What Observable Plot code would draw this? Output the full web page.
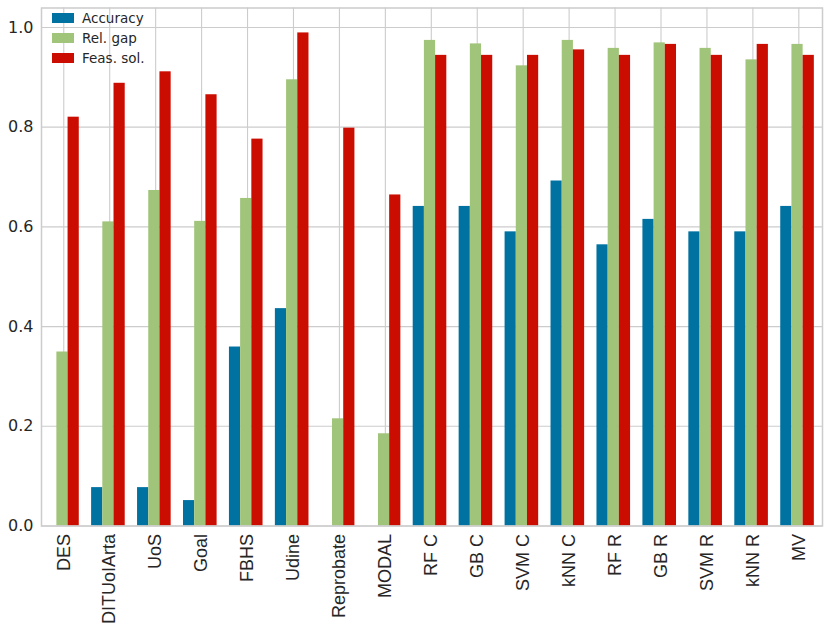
<!DOCTYPE html>
<html>
<head>
<meta charset="utf-8">
<script src="https://cdn.jsdelivr.net/npm/d3@7"></script>
<script src="https://cdn.jsdelivr.net/npm/@observablehq/plot@0.6"></script>
<style>
  html, body { margin: 0; padding: 0; background: #fff; }
  #wrap { position: relative; width: 830px; height: 630px; }
  #legend { position: absolute; left: 52px; top: 8px; font-family: "DejaVu Sans", sans-serif; font-size: 13.5px; color: #262626; }
  .row { display: flex; align-items: center; height: 20px; }
  .sw { width: 22px; height: 10px; margin-right: 8px; }
</style>
</head>
<body>
<div id="wrap"><div id="legend"></div></div>
<script>
const categories = ["DES","DITUoIArta","UoS","Goal","FBHS","Udine","Reprobate","MODAL","RF C","GB C","SVM C","kNN C","RF R","GB R","SVM R","kNN R","MV"];
const accuracy = [0, 0.077, 0.077, 0.051, 0.359, 0.436, 0, 0, 0.641, 0.641, 0.590, 0.692, 0.564, 0.615, 0.590, 0.590, 0.641];
const relGap   = [0.349, 0.610, 0.673, 0.611, 0.657, 0.895, 0.215, 0.185, 0.974, 0.967, 0.923, 0.974, 0.958, 0.969, 0.958, 0.935, 0.966];
const feasSol  = [0.820, 0.888, 0.911, 0.865, 0.776, 0.989, 0.798, 0.664, 0.944, 0.944, 0.944, 0.955, 0.944, 0.966, 0.944, 0.966, 0.944];
const seriesNames = ["Accuracy", "Rel. gap", "Feas. sol."];
const seriesColors = ["#0072a1", "#a0c47a", "#cb0c00"];
const yTicks = [0, 0.2, 0.4, 0.6, 0.8, 1.0];

const seriesValues = [accuracy, relGap, feasSol];
const offsets = [-12.5, -1.3, 9.9];
const inset = (45.94 - 11.2) / 2;

const barMarks = seriesValues.map((vals, s) =>
  Plot.barY(categories.map((c, i) => ({category: c, value: vals[i]})), {
    x: "category", y: "value", fill: seriesColors[s], dx: offsets[s],
    insetLeft: inset, insetRight: inset
  })
);

const chart = Plot.plot({
  width: 830,
  height: 630,
  marginLeft: 41,
  marginRight: 8,
  marginTop: 7.5,
  marginBottom: 104.5,
  style: {fontFamily: "Liberation Sans, Arial, sans-serif", background: "#fff"},
  x: {type: "band", domain: categories, range: [40.3, 821.3], padding: 0, round: false},
  y: {domain: [0, 1.039], range: [525.5, 7.5]},
  marks: [
    Plot.gridX({stroke: "#cccccc", strokeOpacity: 1, strokeWidth: 1.1}),
    Plot.gridY({ticks: yTicks, stroke: "#cccccc", strokeOpacity: 1, strokeWidth: 1.1}),
    ...barMarks,
    Plot.frame({stroke: "#cccccc", strokeWidth: 1.5}),
    Plot.axisX({tickSize: 0, tickRotate: -90, tickPadding: 8, fontSize: 18, fontFamily: "Liberation Sans, Arial, sans-serif", fill: "#262626", label: null}),
    Plot.axisY({ticks: yTicks, tickFormat: d3.format(".1f"), tickSize: 0, tickPadding: 8, fontSize: 16, fontFamily: "DejaVu Sans, sans-serif", fill: "#262626", label: null})
  ]
});
document.getElementById("wrap").prepend(chart);

const legend = document.getElementById("legend");
seriesNames.forEach((n, i) => {
  const row = document.createElement("div");
  row.className = "row";
  row.innerHTML = `<div class="sw" style="background:${seriesColors[i]}"></div><span>${n}</span>`;
  legend.appendChild(row);
});
</script>
</body>
</html>
